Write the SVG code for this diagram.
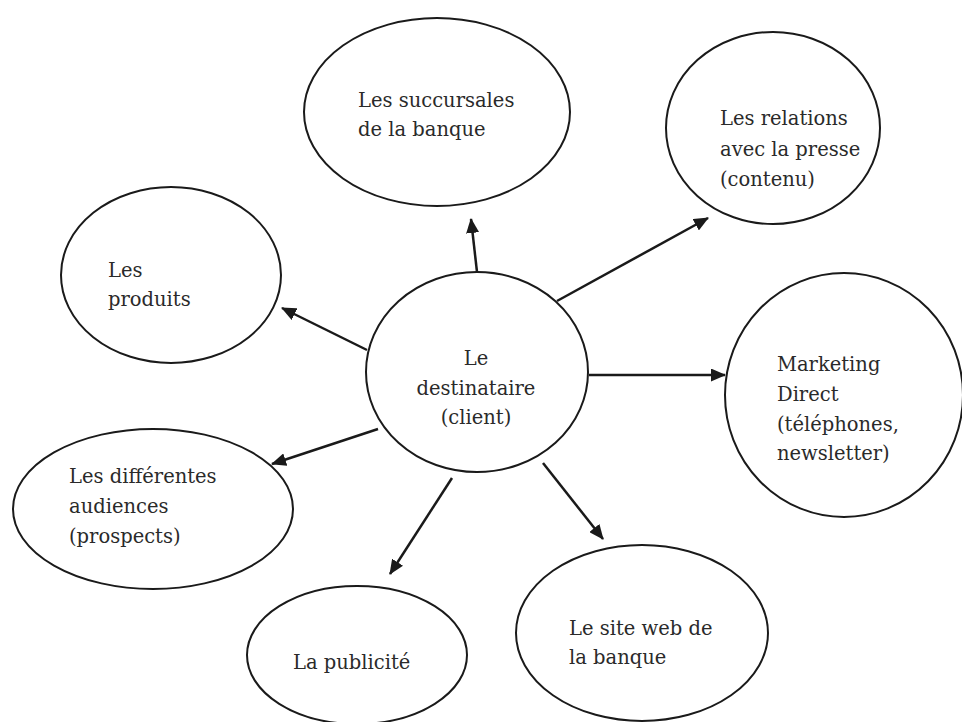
<svg xmlns="http://www.w3.org/2000/svg" width="962" height="722" viewBox="0 0 962 722">
<style>
.n ellipse{fill:#fff;stroke:#1a1a1a;stroke-width:2}
.n text{font-family:'DejaVu Serif','Liberation Serif',serif;font-size:19.5px;fill:#2a2a2a}
.c line{stroke:#1a1a1a;stroke-width:2.5}
</style>
<defs>
<marker id="ah" markerWidth="15" markerHeight="13" refX="14" refY="6.5" orient="auto" markerUnits="userSpaceOnUse">
<path d="M0,0 L15,6.5 L0,13 Z" fill="#1a1a1a"/>
</marker>
</defs>
<rect width="962" height="722" fill="#fff"/>
<g class="c" id="connectors">
<line x1="477" y1="272" x2="471" y2="219" marker-end="url(#ah)"/>
<line x1="557" y1="301" x2="708" y2="218" marker-end="url(#ah)"/>
<line x1="367" y1="350" x2="282" y2="308" marker-end="url(#ah)"/>
<line x1="589" y1="375" x2="725" y2="375" marker-end="url(#ah)"/>
<line x1="378" y1="429" x2="272" y2="464" marker-end="url(#ah)"/>
<line x1="452" y1="478" x2="390" y2="574" marker-end="url(#ah)"/>
<line x1="543" y1="463" x2="603" y2="539" marker-end="url(#ah)"/>
</g>
<g class="n" id="center">
<ellipse cx="477" cy="372" rx="111" ry="100"/>
<text x="476" y="365" text-anchor="middle">Le</text>
<text x="476" y="395" text-anchor="middle">destinataire</text>
<text x="476" y="424" text-anchor="middle">(client)</text>
</g>
<g class="n" id="succursales">
<ellipse cx="437" cy="112" rx="133" ry="94"/>
<text x="358" y="107">Les succursales</text>
<text x="358" y="136">de la banque</text>
</g>
<g class="n" id="relations">
<ellipse cx="773" cy="128" rx="107" ry="96"/>
<text x="720" y="125">Les relations</text>
<text x="720" y="156">avec la presse</text>
<text x="720" y="186">(contenu)</text>
</g>
<g class="n" id="produits">
<ellipse cx="171" cy="275" rx="110" ry="88"/>
<text x="108" y="277">Les</text>
<text x="108" y="306">produits</text>
</g>
<g class="n" id="marketing">
<ellipse cx="844" cy="395" rx="119" ry="122"/>
<text x="777" y="371">Marketing</text>
<text x="777" y="401">Direct</text>
<text x="777" y="431">(téléphones,</text>
<text x="777" y="460">newsletter)</text>
</g>
<g class="n" id="audiences">
<ellipse cx="153" cy="509" rx="140" ry="80"/>
<text x="69" y="483">Les différentes</text>
<text x="69" y="513">audiences</text>
<text x="69" y="543">(prospects)</text>
</g>
<g class="n" id="publicite">
<ellipse cx="357" cy="655" rx="110" ry="69"/>
<text x="293" y="669">La publicité</text>
</g>
<g class="n" id="siteweb">
<ellipse cx="642" cy="633" rx="126" ry="88"/>
<text x="569" y="635">Le site web de</text>
<text x="569" y="664">la banque</text>
</g>
</svg>
